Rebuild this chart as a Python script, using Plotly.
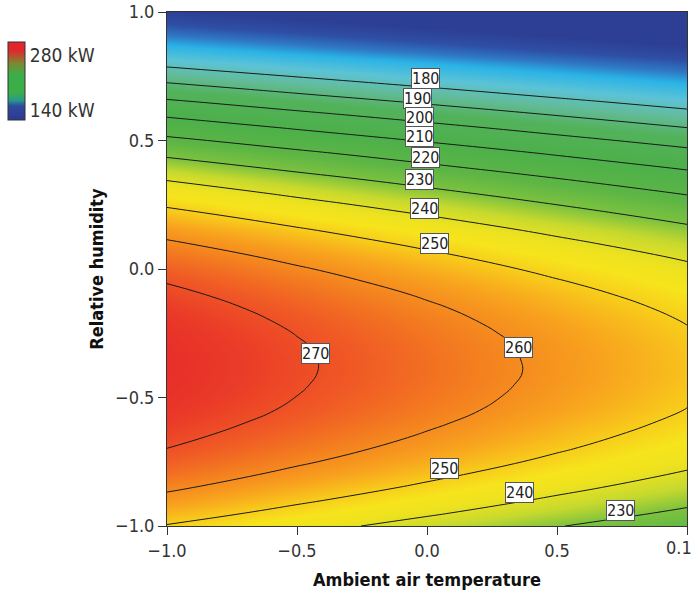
import plotly.graph_objects as go

# ---- data ----
x_vals = [-1.0, -0.5, 0.0, 0.5, 1.0]
y_vals = [-1.00, -0.95, -0.90, -0.85, -0.80, -0.75, -0.70, -0.65, -0.60, -0.55,
          -0.50, -0.45, -0.40, -0.35, -0.30, -0.25, -0.20, -0.15, -0.10, -0.05,
          0.00, 0.05, 0.10, 0.15, 0.20, 0.25, 0.30, 0.35, 0.40, 0.45,
          0.50, 0.55, 0.60, 0.65, 0.70, 0.75, 0.80, 0.85, 0.90, 0.95, 1.00]
power_kw = [
    [249.5, 243.1, 236.8, 230.4, 224.0],
    [253.8, 247.4, 241.1, 234.7, 228.3],
    [257.7, 251.3, 245.0, 238.6, 232.2],
    [261.3, 254.9, 248.6, 242.2, 235.8],
    [264.5, 258.1, 251.8, 245.4, 239.0],
    [267.4, 261.0, 254.7, 248.3, 241.9],
    [269.9, 263.5, 257.2, 250.8, 244.4],
    [272.0, 265.6, 259.3, 252.9, 246.5],
    [273.8, 267.4, 261.1, 254.7, 248.3],
    [275.3, 268.9, 262.6, 256.2, 249.8],
    [276.3, 269.9, 263.6, 257.2, 250.8],
    [277.0, 270.6, 264.3, 257.9, 251.5],
    [277.4, 271.0, 264.7, 258.3, 251.9],
    [277.3, 271.0, 264.6, 258.2, 251.8],
    [277.0, 270.6, 264.3, 257.9, 251.5],
    [276.2, 269.8, 263.5, 257.1, 250.7],
    [275.1, 268.7, 262.4, 256.0, 249.6],
    [273.7, 267.3, 261.0, 254.6, 248.2],
    [271.9, 265.5, 259.2, 252.8, 246.4],
    [269.7, 263.3, 257.0, 250.6, 244.2],
    [267.2, 260.8, 254.5, 248.1, 241.7],
    [264.3, 257.9, 251.6, 245.2, 238.8],
    [261.0, 254.6, 248.3, 241.9, 235.5],
    [257.4, 251.0, 244.7, 238.3, 231.9],
    [253.4, 247.0, 240.7, 234.3, 227.9],
    [249.1, 242.7, 236.4, 230.0, 223.6],
    [244.4, 238.0, 231.7, 225.3, 218.9],
    [239.4, 233.0, 226.7, 220.3, 213.9],
    [233.9, 227.5, 221.2, 214.8, 208.4],
    [228.2, 221.8, 215.5, 209.1, 202.7],
    [222.0, 215.6, 209.3, 202.9, 196.5],
    [215.5, 209.1, 202.8, 196.4, 190.0],
    [208.7, 202.3, 196.0, 189.6, 183.2],
    [201.5, 195.1, 188.8, 182.4, 176.0],
    [193.9, 187.5, 181.2, 174.8, 168.4],
    [186.0, 179.6, 173.2, 166.9, 160.5],
    [177.7, 171.3, 165.0, 158.6, 152.2],
    [169.0, 162.6, 156.3, 149.9, 143.5],
    [160.0, 153.6, 147.3, 140.9, 134.5],
    [150.6, 144.2, 137.9, 131.5, 125.1],
    [140.9, 134.5, 128.2, 121.8, 115.4],
]
contour_levels = [180, 190, 200, 210, 220, 230, 240, 250, 260, 270]
x_tick_vals = [-1.0, -0.5, 0.0, 0.5, 1.0]
x_tick_text = ["\u22121.0", "\u22120.5", "0.0", "0.5", "0.1"]
y_tick_vals = [-1.0, -0.5, 0.0, 0.5, 1.0]
y_tick_text = ["\u22121.0", "\u22120.5", "0.0", "0.5", "1.0"]
legend_vals = [140, 280]
legend_text = ["140 kW", "280 kW"]

# ---- label placement (layout, not data) ----
label_spots = [
    ("180", -0.004, 0.743), ("190", -0.038, 0.665), ("200", -0.027, 0.591),
    ("210", -0.027, 0.517), ("220", -0.004, 0.435), ("230", -0.027, 0.349),
    ("240", -0.008, 0.236), ("250", 0.027, 0.099), ("270", -0.427, -0.329),
    ("260", 0.351, -0.306), ("250", 0.069, -0.778), ("240", 0.355, -0.871),
    ("230", 0.744, -0.938),
]

FONT = "DejaVu Sans Condensed, Liberation Sans Narrow, Arial Narrow, sans-serif"

map_scale = [
    [0.0, "#2d3f94"], [0.0714, "#2e4fa5"], [0.1286, "#2f78c4"],
    [0.1786, "#2ab3e6"], [0.25, "#5cc3d6"], [0.3214, "#62bb98"],
    [0.3929, "#52b25a"], [0.5, "#4cb04a"], [0.5857, "#5cb545"],
    [0.6429, "#7cc23f"], [0.6857, "#c6d92e"], [0.7286, "#eee21f"],
    [0.7571, "#f6e41c"], [0.7929, "#f8c81b"], [0.8286, "#f8a31e"],
    [0.8714, "#f4801f"], [0.9143, "#f05a25"], [0.9571, "#ea3a28"],
    [1.0, "#e6262a"],
]
bar_scale = [
    [0.0, "#2b3a90"], [0.179, "#2e4a9e"], [0.254, "#2a9a8a"],
    [0.355, "#3cae49"], [0.577, "#3cae49"], [0.723, "#7a8a30"],
    [0.894, "#e3262b"], [1.0, "#e3262b"],
]

fig = go.Figure()
fig.add_trace(go.Heatmap(
    x=x_vals, y=y_vals, z=power_kw, zmin=140, zmax=280,
    colorscale=map_scale, zsmooth="best", showscale=False, hoverinfo="skip",
))
fig.add_trace(go.Contour(
    x=x_vals, y=y_vals, z=power_kw,
    contours=dict(start=contour_levels[0], end=contour_levels[-1], size=10,
                  coloring="none", showlabels=False),
    line=dict(color="#1a1a1a", width=1, smoothing=1.3),
    showscale=False, hoverinfo="skip",
))
fig.add_trace(go.Scatter(
    x=[None], y=[None], mode="markers", showlegend=False, hoverinfo="skip",
    marker=dict(
        color=legend_vals, cmin=114.5, cmax=313, colorscale=bar_scale,
        showscale=True,
        colorbar=dict(
            x=-0.305, xanchor="left", y=0.9416, yanchor="top",
            lenmode="pixels", len=78, thickness=17,
            outlinewidth=1, outlinecolor="#333",
            tickvals=legend_vals, ticktext=legend_text, ticks="",
            tickfont=dict(family=FONT, size=19, color="#333"),
            xpad=0, ypad=0,
        ),
    ),
))

for txt, lx, ly in label_spots:
    fig.add_annotation(
        x=lx, y=ly, text=txt, showarrow=False,
        font=dict(family=FONT, size=16, color="#222"),
        bgcolor="white", bordercolor="#555", borderwidth=1, borderpad=0,
    )

TICK_FONT = dict(family=FONT, size=18, color="#333")

# the last x tick label sits flush with the page edge in the reference
fig.add_annotation(
    x=x_tick_vals[-1], xref="x", xanchor="right", xshift=7,
    y=0, yref="paper", yanchor="top", yshift=-9,
    text=x_tick_text[-1], showarrow=False, font=TICK_FONT,
)
x_tick_text_axis = x_tick_text[:-1] + [""]

axis_common = dict(
    showline=True, linecolor="#333", linewidth=1, mirror=True,
    ticks="outside", ticklen=8, tickcolor="#333", tickwidth=1,
    showgrid=False, zeroline=False, automargin=False,
    tickfont=TICK_FONT,
)
fig.update_xaxes(range=[-1, 1], tickvals=x_tick_vals, ticktext=x_tick_text_axis,
                 title=dict(text="<b>Ambient air temperature</b>", standoff=13,
                            font=dict(family=FONT, size=18, color="#111")),
                 **axis_common)
fig.update_yaxes(range=[-1, 1], tickvals=y_tick_vals, ticktext=y_tick_text,
                 title=dict(text="<b>Relative humidity</b>", standoff=6,
                            font=dict(family=FONT, size=18, color="#111")),
                 **axis_common)
fig.update_layout(
    width=695, height=602,
    margin=dict(l=163, r=8, t=12, b=76),
    paper_bgcolor="white", plot_bgcolor="white",
    showlegend=False,
)
fig.write_html("out.html")
